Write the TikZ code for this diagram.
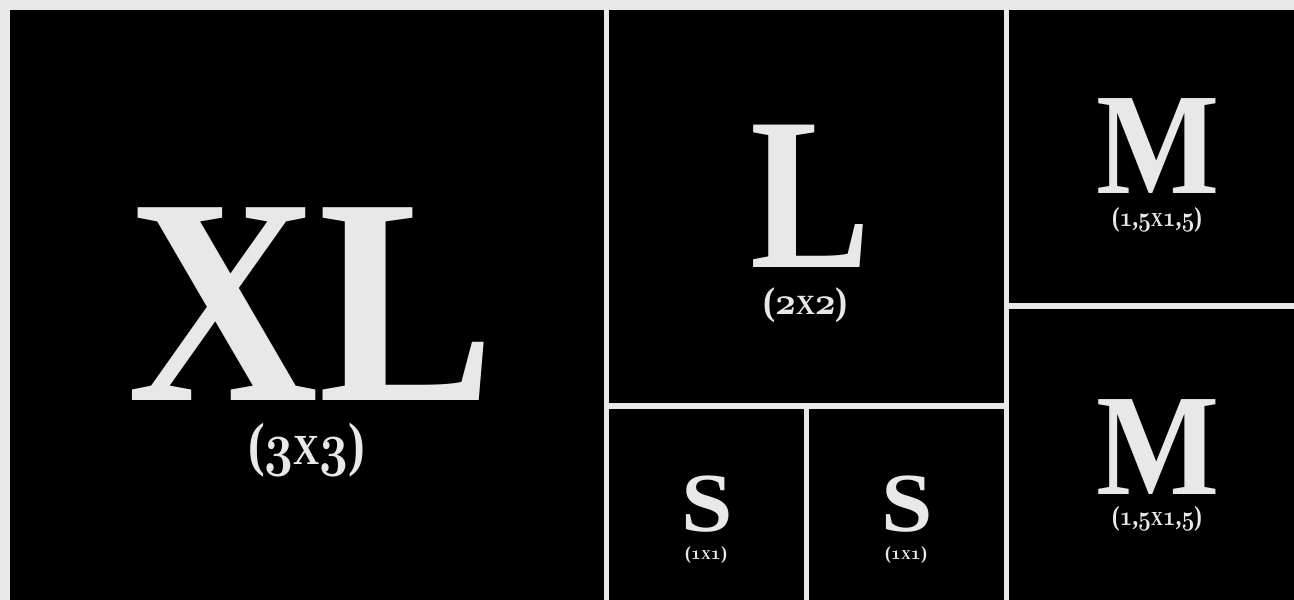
\documentclass[tikz,border=0pt]{standalone}
\usepackage{graphicx}
\usepackage{fontspec}
\setmainfont{Liberation Serif}
\definecolor{bggray}{HTML}{E8E8E8}
\definecolor{txtgray}{HTML}{E8E8E8}
\tikzset{
  panel/.style={fill=black, draw=none},
  lbl/.style={inner sep=0pt, outer sep=0pt, text=txtgray, font=\bfseries},
  big/.style={lbl, anchor=base},
}
\newcommand{\fitbox}[3]{\resizebox*{#1pt}{#2pt}{#3}}
\newcommand{\bigtxt}[3]{\scalebox{#2}[1]{\fontsize{#1pt}{#1pt}\selectfont #3}}
\newcommand{\osn}[1]{{\fontencoding{OML}\fontfamily{cmm}\fontseries{b}\fontshape{it}\selectfont #1}}
\newcommand{\scx}{\scalebox{0.72}{X}}
\begin{document}
\begin{tikzpicture}[x=1pt,y=-1pt]
\useasboundingbox (0,0) rectangle (1294,600);
\fill[bggray] (0,0) rectangle (1294,600);
% panels
\fill[panel] (10,10) rectangle (604,600);
\fill[panel] (609,10) rectangle (1004,403);
\fill[panel] (609,409) rectangle (804,600);
\fill[panel] (809,409) rectangle (1004,600);
\fill[panel] (1009,10) rectangle (1294,303);
\fill[panel] (1009,309) rectangle (1294,600);
% labels
\node[big] (xl) at (311.5,400) {\bigtxt{294.5}{0.90}{XL}};
\node[lbl] (xlsz) at (306.5,450) {\fitbox{117}{54}{(\osn{3}\scx\osn{3})}};
\node[big] (l) at (811,267) {\bigtxt{217.5}{0.83}{L}};
\node[lbl] (lsz) at (805.5,305.5) {\fitbox{85}{35}{(\osn{2}\scx\osn{2})}};
\node[big] (m1) at (1158.5,193) {\bigtxt{145}{0.9}{M}};
\node[lbl] (m1sz) at (1157,219.5) {\fitbox{90}{25}{(\osn{1},\osn{5}\scx\osn{1},\osn{5})}};
\node[big] (m2) at (1158.5,494) {\bigtxt{145}{0.9}{M}};
\node[lbl] (m2sz) at (1157,518.5) {\fitbox{90}{25}{(\osn{1},\osn{5}\scx\osn{1},\osn{5})}};
\node[big] (s1) at (707,531.5) {\bigtxt{84}{1.1}{S}};
\node[lbl] (s1sz) at (706,554.5) {\fitbox{42}{17}{(\osn{1}\scx\osn{1})}};
\node[big] (s2) at (907,531.5) {\bigtxt{84}{1.1}{S}};
\node[lbl] (s2sz) at (906,554.5) {\fitbox{42}{17}{(\osn{1}\scx\osn{1})}};
\end{tikzpicture}
\end{document}
